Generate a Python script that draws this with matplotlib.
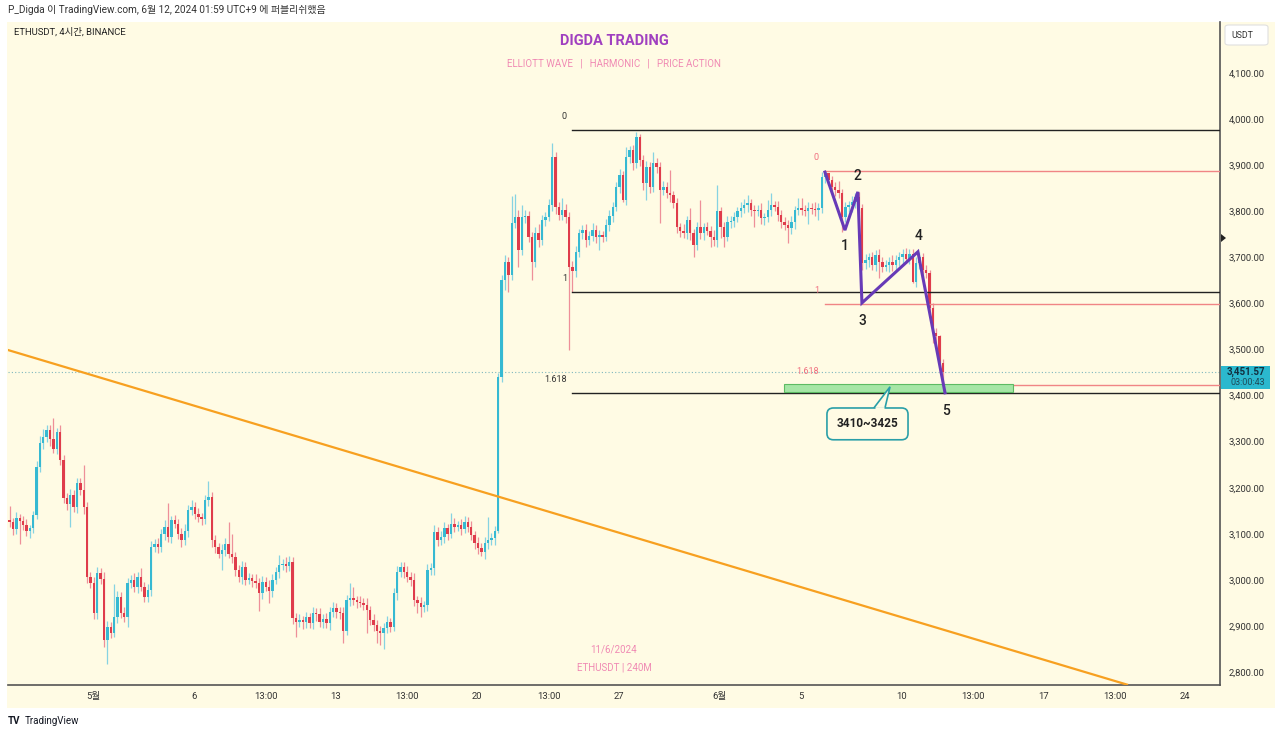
import matplotlib
matplotlib.use('Agg')
import matplotlib.pyplot as plt
from matplotlib.patches import Rectangle, FancyBboxPatch, Polygon
import numpy as np

plt.rcParams['font.family'] = ['Roboto', 'Noto Sans CJK KR', 'DejaVu Sans']

# ---------------- data ----------------
first_open = 3130
closes = [
    3125, 3110, 3135, 3128, 3120, 3105, 3112, 3140, 3245, 3297,
    3310, 3325, 3305, 3285, 3320, 3260, 3178, 3165, 3185, 3158,
    3210, 3195, 3158, 3006, 2993, 2928, 3015, 3002, 2870, 2898,
    2885, 2920, 2963, 2928, 2920, 2993, 3000, 2985, 3006, 2985,
    2963, 2978, 3071, 3078, 3071, 3100, 3115, 3093, 3129, 3122,
    3100, 3086, 3107, 3151, 3158, 3143, 3136, 3132, 3173, 3180,
    3086, 3071, 3057, 3064, 3078, 3057, 3050, 3021, 3006, 3028,
    3000, 3003, 2998, 2993, 2971, 2996, 2985, 2975, 3000, 3017,
    3032, 3035, 3030, 3039, 2917, 2908, 2912, 2908, 2919, 2906,
    2928, 2925, 2908, 2915, 2906, 2930, 2938, 2930, 2928, 2890,
    2956, 2960, 2956, 2952, 2950, 2946, 2934, 2913, 2902, 2890,
    2884, 2895, 2908, 2898, 2971, 3017, 3028, 3017, 3006, 3000,
    2956, 2950, 2941, 2945, 3021, 3025, 3104, 3086, 3093, 3112,
    3100, 3122, 3115, 3118, 3111, 3126, 3115, 3097, 3080, 3069,
    3061, 3080, 3086, 3090, 3107, 3440, 3650, 3690, 3662, 3774,
    3788, 3716, 3788, 3790, 3744, 3690, 3752, 3737, 3780, 3788,
    3813, 3917, 3809, 3792, 3803, 3788, 3679, 3670, 3711, 3752,
    3760, 3737, 3747, 3760, 3745, 3748, 3745, 3770, 3790, 3810,
    3852, 3878, 3824, 3917, 3932, 3904, 3961, 3911, 3861, 3896,
    3852, 3904, 3896, 3846, 3852, 3840, 3835, 3817, 3765, 3758,
    3752, 3780, 3752, 3726, 3765, 3752, 3765, 3758, 3745, 3737,
    3800, 3765, 3745, 3776, 3779, 3787, 3800, 3807, 3813, 3817,
    3802, 3800, 3803, 3785, 3787, 3802, 3813, 3810, 3792, 3776,
    3770, 3763, 3776, 3802, 3807, 3803, 3800, 3807, 3805, 3803,
    3807, 3874, 3882, 3867, 3852, 3846, 3839, 3788, 3809, 3813,
    3820, 3830, 3806, 3687, 3694, 3700, 3683, 3705, 3690, 3680,
    3683, 3690, 3683, 3694, 3700, 3707, 3697, 3707, 3646, 3687,
    3700, 3672, 3665, 3591, 3535, 3530, 3470, 3451.57,
]
wick_up = [
    30, 10, 12, 8, 10, 12, 8, 10, 12, 15,
    18, 10, 12, 47, 10, 15, 12, 10, 12, 10,
    12, 10, 54, 12, 10, 14, 12, 10, 15, 12,
    10, 70, 12, 10, 14, 12, 10, 14, 10, 20,
    10, 12, 14, 10, 12, 10, 14, 52, 10, 12,
    10, 12, 14, 12, 15, 10, 12, 10, 12, 35,
    10, 12, 10, 14, 12, 48, 43, 10, 12, 14,
    10, 12, 10, 14, 10, 12, 10, 14, 12, 10,
    22, 10, 15, 12, 10, 12, 14, 10, 12, 10,
    12, 10, 14, 10, 12, 10, 14, 12, 10, 12,
    12, 33, 25, 10, 12, 10, 14, 10, 12, 10,
    10, 12, 14, 10, 12, 14, 11, 10, 12, 10,
    14, 10, 12, 10, 14, 12, 15, 10, 12, 14,
    10, 23, 12, 10, 14, 12, 10, 12, 10, 14,
    10, 12, 50, 12, 10, 10, 12, 15, 10, 60,
    50, 14, 25, 12, 10, 12, 14, 20, 12, 10,
    14, 31, 12, 10, 26, 12, 10, 12, 14, 10,
    10, 12, 10, 14, 10, 12, 10, 14, 12, 10,
    12, 14, 10, 22, 10, 12, 12, 7, 10, 14,
    10, 24, 12, 10, 14, 12, 49, 10, 12, 10,
    14, 10, 28, 10, 12, 59, 10, 12, 10, 14,
    57, 10, 12, 14, 10, 12, 10, 12, 14, 18,
    10, 12, 10, 14, 10, 22, 26, 10, 12, 10,
    12, 10, 14, 10, 21, 22, 10, 12, 10, 14,
    10, 12, 5, 2, 10, 12, 20, 10, 12, 10,
    12, 10, 11, 10, 14, 10, 12, 10, 14, 10,
    12, 10, 14, 10, 12, 10, 13, 12, 10, 14,
    12, 10, 12, 7, 10, 12, 2, 10,
]
wick_dn = [
    10, 12, 10, 50, 12, 10, 14, 10, 8, 10,
    12, 10, 14, 10, 12, 10, 12, 14, 50, 10,
    12, 10, 14, 12, 10, 14, 12, 10, 15, 53,
    12, 10, 14, 10, 12, 22, 10, 12, 14, 10,
    12, 10, 14, 10, 12, 10, 14, 10, 12, 10,
    12, 15, 10, 14, 10, 12, 10, 14, 10, 12,
    15, 12, 10, 36, 12, 10, 14, 12, 10, 14,
    12, 10, 14, 10, 38, 12, 10, 25, 12, 10,
    12, 10, 14, 10, 12, 32, 10, 14, 12, 10,
    12, 14, 10, 12, 10, 14, 10, 12, 14, 28,
    10, 12, 10, 14, 10, 12, 50, 10, 12, 28,
    26, 35, 10, 12, 10, 14, 10, 12, 10, 14,
    12, 22, 22, 10, 12, 10, 14, 12, 10, 12,
    14, 10, 12, 10, 14, 10, 12, 10, 14, 12,
    10, 15, 12, 10, 15, 5, 10, 20, 37, 12,
    10, 36, 12, 14, 10, 40, 12, 14, 10, 12,
    10, 12, 14, 10, 12, 14, 181, 45, 12, 10,
    12, 14, 10, 12, 14, 30, 12, 10, 12, 14,
    10, 12, 4, 10, 12, 14, 10, 12, 14, 37,
    12, 10, 14, 72, 10, 12, 14, 10, 12, 14,
    10, 12, 14, 26, 10, 12, 14, 10, 23, 12,
    14, 23, 23, 10, 12, 14, 10, 12, 10, 14,
    12, 35, 10, 12, 14, 10, 12, 10, 14, 12,
    10, 32, 12, 14, 10, 12, 10, 27, 12, 14,
    22, 10, 12, 10, 12, 14, 10, 33, 12, 10,
    14, 12, 10, 15, 12, 14, 10, 12, 35, 12,
    10, 14, 12, 10, 12, 14, 10, 12, 2, 10,
    12, 14, 10, 12, 20, 16, 21, 41,
]
last_bar_day = 42.042          # days from 1 May (last 4h bar)
bar_days = 4 / 24

tick_days = [0, 5, 8 + 13/24, 12, 15 + 13/24, 19, 22 + 13/24, 26, 31, 35, 40,
             43 + 13/24, 47, 50 + 13/24, 54]
tick_labels = ['5월', '6', '13:00', '13', '13:00', '20', '13:00', '27', '6월', '5',
               '10', '13:00', '17', '13:00', '24']
price_ticks = list(range(2800, 4101, 100))

fib_black_levels = [3976, 3625, 3406]
fib_black_labels = ['0', '1', '1.618']
fib_black_start = 23.69
fib_red_levels = [3887, 3599, 3422]
fib_red_labels = ['0', '1', '1.618']
fib_red_start = 36.2

zone_days = [34.17, 45.5]
zone_prices = [3408, 3425]

wave_days = [36.2, 37.19, 37.83, 38.03, 40.8, 42.14]
wave_prices = [3885, 3759, 3842, 3601, 3712, 3406]
wave_label_text = ['1', '2', '3', '4', '5']
wave_label_days = [37.19, 37.83, 38.03, 40.85, 42.19]
wave_label_prices = [3725, 3876, 3562, 3746, 3366]

trend_days = [-4.6, 51.19]
trend_prices = [3504, 2772]

current_price = 3451.57

# ---------------- figure ----------------
W, H = 1280, 735
fig = plt.figure(figsize=(W / 100, H / 100), dpi=100)
fig.patch.set_facecolor('white')
BG = '#FFFBE4'

def fx(px):
    return px / W

def fy(py):
    return 1 - py / H

# yellow panel behind chart, price axis and time axis
fig.patches.append(Rectangle((fx(7), fy(708)), fx(1275 - 7), (708 - 22) / H,
                             transform=fig.transFigure, facecolor=BG,
                             edgecolor='none', zorder=-10))

ax = fig.add_axes([fx(8), fy(685), fx(1220 - 8), (685 - 22) / H])
ax.set_zorder(1)
ax.set_facecolor(BG)
ax.set_xlim(-4.204, 55.74)
ax.set_ylim(2771.8, 4210.7)

N = len(closes)
opens = [first_open] + closes[:-1]
t = np.array([last_bar_day - (N - 1 - i) * bar_days for i in range(N)])
o = np.array(opens, float)
c = np.array(closes, float)
hi = np.maximum(o, c) + np.array(wick_up)
lo = np.minimum(o, c) - np.array(wick_dn)

UP = '#36B9D2'
DN = '#DF3C4B'
UPW = '#86D3E2'
DNW = '#EE8F99'
up = c >= o
ax.vlines(t, lo, hi, colors=np.where(up, UPW, DNW), lw=0.9, zorder=2)
bh = np.maximum(np.abs(c - o), 1.5)
ax.bar(t, bh, bottom=np.minimum(o, c), width=0.118,
       color=np.where(up, UP, DN), linewidth=0, zorder=3)

# trend line
ax.plot(trend_days, trend_prices, color='#F7A020', lw=1.6, zorder=4,
        solid_capstyle='butt')

# current price dotted line
ax.axhline(current_price, color='#7FB8BE', lw=0.8, ls=(0, (1, 2)), zorder=1)

# fib levels
xr = ax.get_xlim()[1]
for lev, lab in zip(fib_black_levels, fib_black_labels):
    ax.plot([fib_black_start, xr], [lev, lev], color='#222222', lw=1.0, zorder=4)
    ax.text(fib_black_start - 0.25, lev + 20, lab, ha='right', va='bottom',
            fontsize=6.5, color='#333333', zorder=6)
for lev, lab in zip(fib_red_levels, fib_red_labels):
    ax.plot([fib_red_start, xr], [lev, lev], color='#F08585', lw=1.0, zorder=4)
    ax.text(fib_red_start - 0.3, lev + 20, lab, ha='right', va='bottom',
            fontsize=6.5, color='#F07080', zorder=6)

# target zone
ax.add_patch(Rectangle((zone_days[0], zone_prices[0]), zone_days[1] - zone_days[0],
                       zone_prices[1] - zone_prices[0], facecolor='#A6E6A6',
                       edgecolor='#5DBB63', lw=0.8, zorder=5))

# elliott wave
ax.plot(wave_days, wave_prices, color='#673AB7', lw=2.2, zorder=7,
        solid_joinstyle='miter')
for s, xd, yp in zip(wave_label_text, wave_label_days, wave_label_prices):
    ax.text(xd, yp, s, ha='center', va='center', fontsize=10, color='#222222',
            fontweight='medium', zorder=8)

# callout
box_x0, box_x1 = 36.30, 40.31
box_y0, box_y1 = 3304, 3373
CALL = '#2A9FA8'
ax.add_patch(Polygon([[38.62, box_y1], [39.42, 3419], [39.17, box_y1]],
                     closed=True, facecolor=BG, edgecolor=CALL, lw=1.2, zorder=8))
ax.add_patch(FancyBboxPatch((box_x0, box_y0), box_x1 - box_x0, box_y1 - box_y0,
                            boxstyle='round,pad=0,rounding_size=0.32',
                            mutation_aspect=43, facecolor=BG, edgecolor=CALL,
                            lw=1.2, zorder=9))
ax.plot([38.66, 39.13], [box_y1, box_y1], color=BG, lw=2.0, zorder=10,
        solid_capstyle='butt')
ax.text((box_x0 + box_x1) / 2, (box_y0 + box_y1) / 2, '3410~3425', ha='center',
        va='center', fontsize=8.5, fontweight='bold', color='#222222', zorder=11)

# titles / watermark texts
ax.text(0.5, 0.972, 'DIGDA TRADING', transform=ax.transAxes, ha='center',
        va='center', fontsize=10.5, fontweight='bold', color='#A040C0', zorder=6)
ax.text(0.5, 0.937, 'ELLIOTT WAVE   |   HARMONIC   |   PRICE ACTION',
        transform=ax.transAxes, ha='center', va='center', fontsize=7,
        color='#F08AB4', zorder=6)
ax.text(0.5, 0.054, '11/6/2024', transform=ax.transAxes, ha='center',
        va='center', fontsize=7, color='#F08AB4', zorder=6)
ax.text(0.5, 0.026, 'ETHUSDT | 240M', transform=ax.transAxes, ha='center',
        va='center', fontsize=7, color='#F08AB4', zorder=6)

# axes styling
for sp in ['top', 'left']:
    ax.spines[sp].set_visible(False)
ax.spines['bottom'].set_color('#555555')
ax.spines['right'].set_color('#555555')
ax.spines['bottom'].set_linewidth(1.2)
ax.spines['right'].set_linewidth(1.2)
ax.yaxis.tick_right()
ax.set_yticks(price_ticks)
ax.set_yticklabels([f'{p:,.2f}' for p in price_ticks])
ax.tick_params(axis='y', length=0, pad=6, labelsize=6.8, labelcolor='#333333')
ax.set_xticks(tick_days)
ax.set_xticklabels(tick_labels)
ax.tick_params(axis='x', length=0, pad=5, labelsize=6.8, labelcolor='#333333')

# header texts
fig.text(fx(8), fy(10), 'P_Digda 이 TradingView.com, 6월 12, 2024 01:59 UTC+9 에 퍼블리쉬했음',
         ha='left', va='center', fontsize=7.2, color='#333333')
fig.text(fx(14), fy(32), 'ETHUSDT, 4시간, BINANCE', ha='left', va='center',
         fontsize=6.8, color='#222222', zorder=5)

# USDT box
fig.patches.append(FancyBboxPatch((fx(1225), fy(45)), fx(43), 20 / H,
                                  boxstyle='round,pad=0,rounding_size=0.003',
                                  transform=fig.transFigure, facecolor='white',
                                  edgecolor='#E0E0E0', lw=0.8, zorder=3))
fig.text(fx(1231), fy(35), 'USDT', ha='left', va='center', fontsize=6.3,
         color='#333333', zorder=5)

# current price label
fig.patches.append(Rectangle((fx(1221), fy(389)), fx(49), 23 / H,
                             transform=fig.transFigure, facecolor='#2BB8CE',
                             edgecolor='none', zorder=3))
fig.text(fx(1265), fy(372), f'{current_price:,.2f}', ha='right', va='center',
         fontsize=7, color='#123040', fontweight='bold', zorder=5)
fig.text(fx(1265), fy(383), '03:00:43', ha='right', va='center', fontsize=6.5,
         color='#1E4A58', zorder=5)

# small marker on price scale
fig.patches.append(Polygon([[fx(1221), fy(234)], [fx(1226), fy(238)], [fx(1221), fy(242)]],
                           closed=True, transform=fig.transFigure,
                           facecolor='#222222', edgecolor='none', zorder=4))

# TradingView footer
fig.text(fx(8), fy(721), 'TV', ha='left', va='center', fontsize=7,
         fontweight='bold', color='#131722')
fig.text(fx(25), fy(721), 'TradingView', ha='left', va='center', fontsize=7,
         color='#131722')

fig.savefig('out.png', dpi=100, facecolor='white')
